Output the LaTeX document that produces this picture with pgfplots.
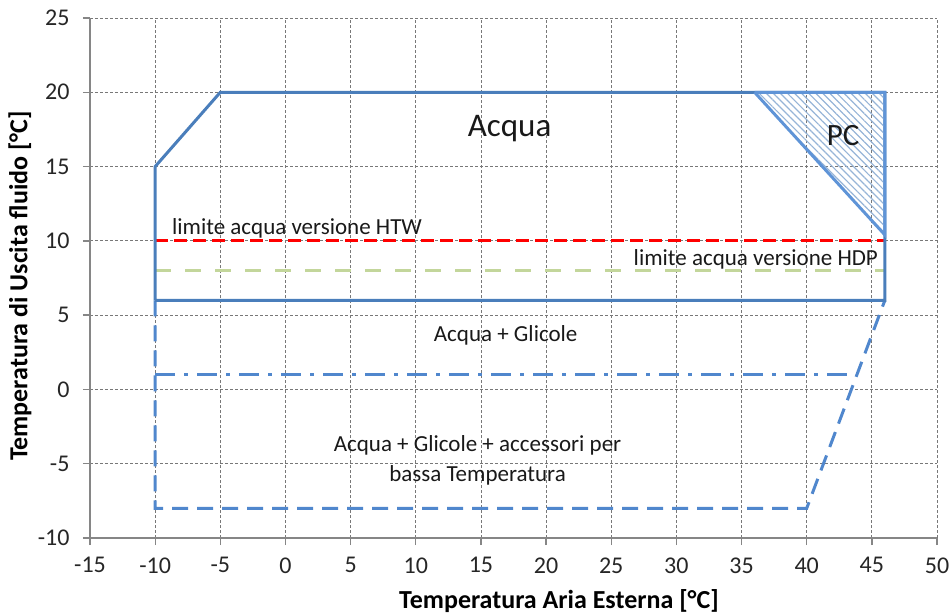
\documentclass[border=0pt]{standalone}
\usepackage{fontspec}
\setmainfont{Carlito}
\usepackage{pgfplots}
\pgfplotsset{compat=1.18}
\usetikzlibrary{patterns.meta}
\definecolor{mainblue}{RGB}{74,126,187}
\definecolor{dashblue}{RGB}{80,135,205}
\definecolor{pcblue}{RGB}{95,148,215}
\definecolor{hatchc}{RGB}{150,180,215}
\definecolor{lgreen}{RGB}{195,214,155}
\definecolor{axisgray}{RGB}{134,134,134}
\definecolor{gridgray}{RGB}{120,120,120}
\begin{document}
\begin{tikzpicture}
\path[use as bounding box] (-90pt,-76pt) rectangle (862pt,538pt);
\begin{axis}[
  at={(0pt,0pt)}, anchor=south west,
  scale only axis, width=847pt, height=520pt,
  xmin=-15, xmax=50, ymin=-10, ymax=25,
  xtick={-15,-10,...,50}, ytick={-10,-5,...,25},
  axis x line*=bottom, axis y line*=left,
  axis line style={draw=axisgray, line width=1.3pt, -},
  grid=major,
  major grid style={draw=gridgray, dash pattern=on 3pt off 2pt, line width=0.8pt},
  tick align=outside, major tick length=7pt,
  tick style={draw=axisgray, line width=1.3pt},
  ticklabel style={font=\fontsize{24}{28}\selectfont, text=black!85},
  xticklabel style={yshift=-9pt},
  yticklabel style={xshift=-10pt},
  /pgf/number format/assume math mode=true,
  clip=false,
]
\addplot[red, line width=3pt, dash pattern=on 13pt off 6pt] coordinates {(-10,10) (46,10)};
\addplot[lgreen, line width=3pt, dash pattern=on 16pt off 14pt] coordinates {(-10,8) (46,8)};
\addplot[dashblue, line width=3pt, dash pattern=on 16pt off 9pt] coordinates {(-10,6) (-10,-8) (40,-8) (46,6)};
\addplot[dashblue, line width=3pt, dash pattern=on 20pt off 9pt on 4pt off 9pt] coordinates {(-10,1) (43.86,1)};
\addplot[mainblue, line width=3pt] coordinates {(-10,6) (-10,15) (-5,20) (46,20) (46,6) (-10,6)};
\addplot[draw=pcblue, line width=3pt, pattern={Lines[angle=-45, distance=5pt, line width=1.2pt]}, pattern color=hatchc] coordinates {(36,20) (46,20) (46,10.4) (36,20)};
\node[font=\fontsize{33}{40}\selectfont, anchor=base, text=black!90] at (axis cs:17.2,17.0) {Acqua};
\node[font=\fontsize{31}{37}\selectfont, anchor=base, text=black!90] at (axis cs:42.8,16.45) {PC};
\node[font=\fontsize{23}{27}\selectfont, anchor=base west, inner sep=0pt, text=black!90] at (axis cs:-8.71,10.4) {limite acqua versione HTW};
\node[font=\fontsize{23}{27}\selectfont, anchor=base east, inner sep=0pt, text=black!90] at (axis cs:45.48,8.37) {limite acqua versione HDP};
\node[font=\fontsize{23}{27}\selectfont, anchor=base, text=black!90] at (axis cs:16.9,3.2) {Acqua + Glicole};
\node[font=\fontsize{23}{27}\selectfont, anchor=base, text=black!90] at (axis cs:14.74,-4.21) {Acqua + Glicole + accessori per};
\node[font=\fontsize{23}{27}\selectfont, anchor=base, text=black!90] at (axis cs:14.74,-6.23) {bassa Temperatura};
\end{axis}
\node[font=\bfseries\fontsize{26}{31}\selectfont, anchor=base] at (469pt,-70pt) {Temperatura Aria Esterna [°C]};
\node[font=\bfseries\fontsize{26}{31}\selectfont, rotate=90, anchor=center] at (-70pt,252pt) {Temperatura di Uscita fluido [°C]};
\end{tikzpicture}
\end{document}
